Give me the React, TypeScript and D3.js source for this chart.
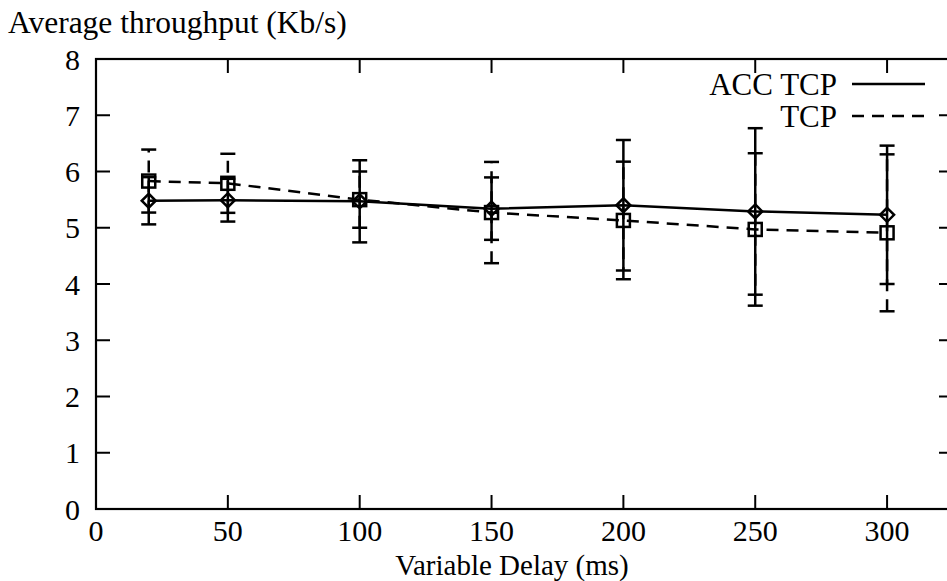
import React, { useEffect } from "react";
import * as d3 from "d3";

const xValues = [20, 50, 100, 150, 200, 250, 300];
const accMean = [5.48, 5.49, 5.47, 5.34, 5.4, 5.29, 5.23];
const accErr = [0.42, 0.38, 0.73, 0.555, 1.16, 1.48, 1.23];
const tcpMean = [5.83, 5.79, 5.5, 5.27, 5.13, 4.97, 4.91];
const tcpErr = [0.56, 0.525, 0.5, 0.9, 1.045, 1.355, 1.395];
const xTicks = [0, 50, 100, 150, 200, 250, 300];
const yTicks = [0, 1, 2, 3, 4, 5, 6, 7, 8];
const seriesNames = ["ACC TCP", "TCP"];
const xTitle = "Variable Delay (ms)";
const yTitle = "Average throughput (Kb/s)";

const W = 947;
const H = 581;
const FONT = "'Liberation Serif', 'Times New Roman', serif";

export default function App() {
  useEffect(() => {
    document.body.style.margin = "0";
  }, []);

  const x = d3.scaleLinear().domain([0, 325]).range([96, 953]);
  const y = d3.scaleLinear().domain([0, 8]).range([509, 59]);
  const left = x(0), right = x(325), top = y(8), bottom = y(0);
  const tickLen = 14;
  const capHalf = 7.5;

  const line = d3
    .line<number>()
    .x((_, i) => x(xValues[i]))
    .y((d) => y(d));

  const series = [
    { name: seriesNames[0], mean: accMean, err: accErr, dash: undefined as string | undefined, marker: "diamond" },
    { name: seriesNames[1], mean: tcpMean, err: tcpErr, dash: "12,8", marker: "square" },
  ];

  return (
    <svg
      width={W}
      height={H}
      style={{ display: "block", position: "absolute", left: 0, top: 0, background: "#fff" }}
      fontFamily={FONT}
    >
      <rect x={0} y={0} width={W} height={H} fill="#fff" />
      {/* ticks */}
      <g stroke="#000" strokeWidth={2}>
        {xTicks.map((t) => (
          <g key={"xt" + t}>
            <line x1={x(t)} x2={x(t)} y1={bottom} y2={bottom - tickLen} />
            <line x1={x(t)} x2={x(t)} y1={top} y2={top + tickLen} />
          </g>
        ))}
        {yTicks.map((t) => (
          <g key={"yt" + t}>
            <line x1={left} x2={left + tickLen} y1={y(t)} y2={y(t)} />
            <line x1={right} x2={right - tickLen} y1={y(t)} y2={y(t)} />
          </g>
        ))}
      </g>
      {/* frame */}
      <rect x={left} y={top} width={right - left} height={bottom - top} fill="none" stroke="#000" strokeWidth={2.2} />
      {/* tick labels */}
      <g fontSize={30} fill="#000">
        {xTicks.map((t) => (
          <text key={"xl" + t} x={x(t)} y={bottom + 32} textAnchor="middle">
            {t}
          </text>
        ))}
        {yTicks.map((t) => (
          <text key={"yl" + t} x={80} y={y(t)} dy="0.35em" textAnchor="end">
            {t}
          </text>
        ))}
        <text x={8} y={33} fontSize={31.5}>{yTitle}</text>
        <text x={512} y={575} textAnchor="middle" fontSize={29}>
          {xTitle}
        </text>
      </g>
      {/* series */}
      {series.map((s) => (
        <g key={s.name} stroke="#000" strokeWidth={2.5} fill="none">
          <path d={line(s.mean) || ""} strokeDasharray={s.dash} />
          {s.mean.map((m, i) => {
            const cx = x(xValues[i]);
            const lo = y(m - s.err[i]);
            const hi = y(m + s.err[i]);
            return (
              <g key={i}>
                <line x1={cx} x2={cx} y1={lo} y2={hi} strokeDasharray={s.dash} />
                <line x1={cx - capHalf} x2={cx + capHalf} y1={lo} y2={lo} />
                <line x1={cx - capHalf} x2={cx + capHalf} y1={hi} y2={hi} />
                {s.marker === "diamond" ? (
                  <path d={`M${cx},${y(m) - 7}L${cx + 7},${y(m)}L${cx},${y(m) + 7}L${cx - 7},${y(m)}Z`} />
                ) : (
                  <rect x={cx - 6.5} y={y(m) - 6.5} width={13} height={13} />
                )}
              </g>
            );
          })}
        </g>
      ))}
      {/* legend */}
      <g fontSize={31} fill="#000">
        {series.map((s, i) => (
          <g key={"lg" + s.name}>
            <text x={837} y={84 + i * 32} dy="0.35em" textAnchor="end">
              {s.name}
            </text>
            <line x1={852} x2={925} y1={84 + i * 32} y2={84 + i * 32} stroke="#000" strokeWidth={2.5} strokeDasharray={s.dash} />
          </g>
        ))}
      </g>
    </svg>
  );
}
